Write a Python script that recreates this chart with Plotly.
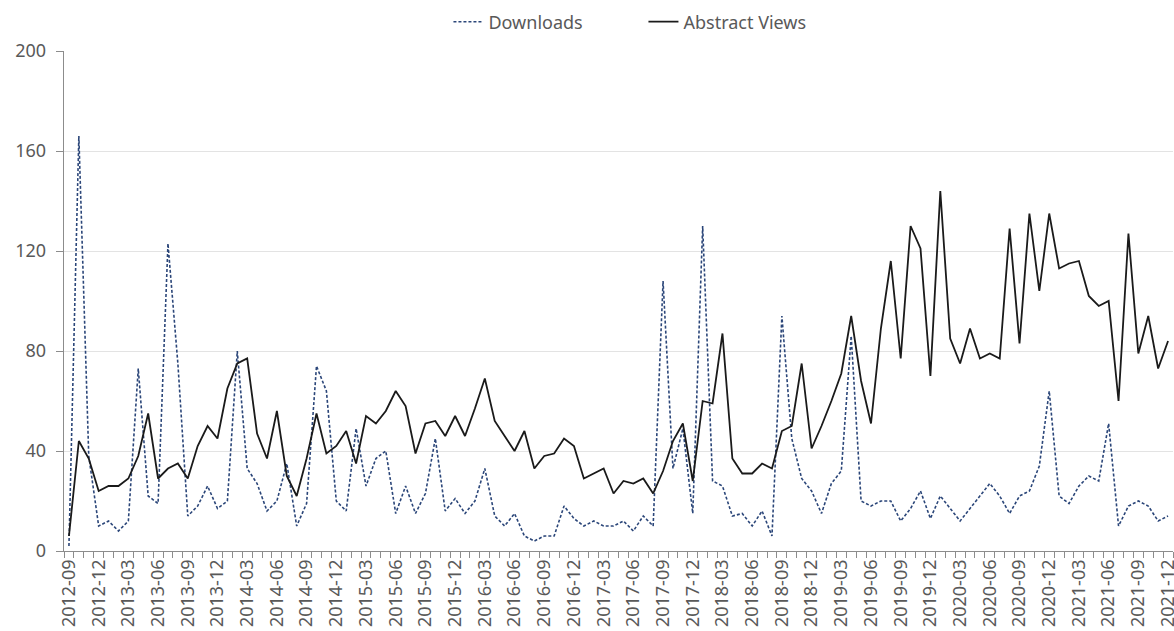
import plotly.graph_objects as go

# Monthly categories 2012-09 .. 2021-12
months = []
for y in range(2012, 2022):
    for m in range(1, 13):
        if y == 2012 and m < 9:
            continue
        months.append(f"{y}-{m:02d}")

abstract_views = [6, 44, 37, 24, 26, 26, 29, 38, 55, 29, 33, 35, 29, 42, 50, 45, 65, 75, 77, 47,
                  37, 56, 30, 22, 37, 55, 39, 42, 48, 35, 54, 51, 56, 64, 58, 39, 51, 52, 46, 54,
                  46, 57, 69, 52, 46, 40, 48, 33, 38, 39, 45, 42, 29, 31, 33, 23, 28, 27, 29, 23,
                  32, 44, 51, 28, 60, 59, 87, 37, 31, 31, 35, 33, 48, 50, 75, 41, 50, 60, 71, 94,
                  68, 51, 89, 116, 77, 130, 121, 70, 144, 85, 75, 89, 77, 79, 77, 129, 83, 135, 104, 135,
                  113, 115, 116, 102, 98, 100, 60, 127, 79, 94, 73, 84]

downloads = [2, 166, 38, 10, 12, 8, 12, 73, 22, 19, 123, 75, 14, 18, 26, 17, 20, 80, 33, 27,
             16, 20, 35, 10, 19, 74, 64, 20, 16, 49, 26, 37, 40, 15, 26, 15, 23, 45, 16, 21,
             15, 20, 33, 14, 10, 15, 6, 4, 6, 6, 18, 13, 10, 12, 10, 10, 12, 8, 14, 10,
             108, 33, 49, 15, 130, 28, 26, 14, 15, 10, 16, 6, 94, 45, 29, 24, 15, 27, 32, 86,
             20, 18, 20, 20, 12, 17, 24, 13, 22, 17, 12, 17, 22, 27, 22, 15, 22, 24, 34, 64,
             22, 19, 26, 30, 28, 51, 10, 18, 20, 18, 12, 14]

y_ticks = [0, 40, 80, 120, 160, 200]

xpos = list(range(len(months)))
label_idx = xpos[::3]
label_txt = [months[i] for i in label_idx]

FONT = "Noto Sans, Segoe UI, Open Sans, sans-serif"
GREY = "#595959"

fig = go.Figure()
fig.add_trace(go.Scatter(
    x=xpos, y=downloads, mode="lines", name="Downloads",
    line=dict(color="#2B4679", width=1.6, dash="3px,2px"),
))
fig.add_trace(go.Scatter(
    x=xpos, y=abstract_views, mode="lines", name="Abstract Views",
    line=dict(color="#1A1A1A", width=1.8),
))

fig.update_layout(
    width=1174, height=631,
    margin=dict(l=64, r=1, t=51, b=80, autoexpand=False),
    paper_bgcolor="white", plot_bgcolor="white",
    font=dict(family=FONT, size=18, color=GREY),
    showlegend=True,
    legend=dict(orientation="h", x=0.5225, xanchor="center", y=1.021, yanchor="bottom",
                font=dict(family=FONT, size=18, color=GREY),
                entrywidth=150, entrywidthmode="pixels", traceorder="normal"),
)

fig.update_xaxes(
    range=[-0.5, len(months) - 0.5], automargin=False,
    tickmode="array", tickvals=label_idx, ticktext=label_txt,
    tickangle=-90, ticks="", showgrid=False, zeroline=False,
    ticklabeloverflow="allow",
    showline=True, linecolor="#8C8C8C", linewidth=1.3,
    tickfont=dict(family=FONT, size=18, color=GREY),
    minor=dict(ticks="outside", tick0=-0.5, dtick=1, ticklen=6,
               tickcolor="#8C8C8C", tickwidth=1, showgrid=False),
)
fig.update_yaxes(
    range=[0, 200], tickmode="array", tickvals=y_ticks, automargin=False,
    ticks="outside", ticklen=7, tickcolor="#8C8C8C", tickwidth=1,
    ticklabelstandoff=6,
    showline=True, linecolor="#8C8C8C", linewidth=1.3,
    showgrid=True, gridcolor="#E3E3E3", gridwidth=1, zeroline=False,
    tickfont=dict(family=FONT, size=18, color=GREY),
)

fig.write_html(
    "out.html",
    config={"displayModeBar": False, "staticPlot": True},
    post_script="document.body.style.margin='0';document.body.style.overflow='hidden';",
)
